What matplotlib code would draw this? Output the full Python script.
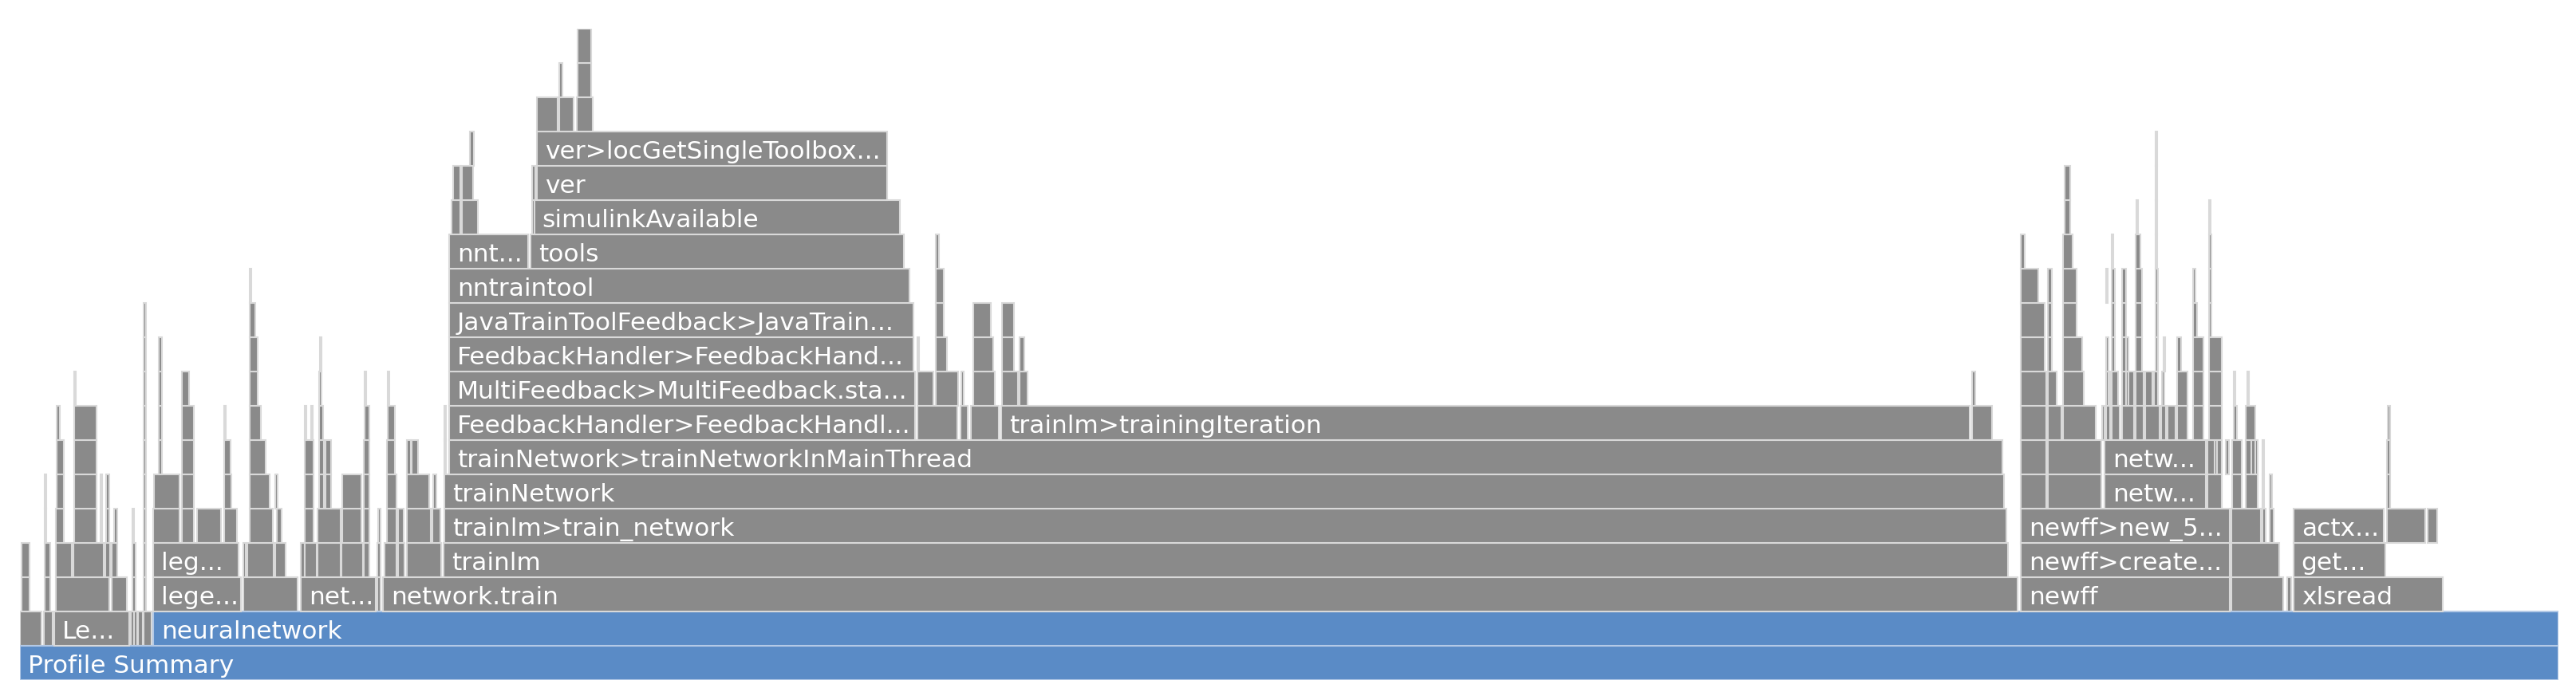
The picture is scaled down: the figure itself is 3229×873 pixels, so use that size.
import matplotlib
matplotlib.use('Agg')
import matplotlib.pyplot as plt

# flame graph of a MATLAB profile, times in ms
# labelled frames
names = ['Profile Summary', 'Le...', 'neuralnetwork',
         'lege...', 'net...', 'network.train', 'newff', 'xlsread',
         'leg...', 'trainlm', 'newff>create...', 'get...',
         'trainlm>train_network', 'newff>new_5...', 'actx...',
         'trainNetwork', 'netw...',
         'trainNetwork>trainNetworkInMainThread', 'netw...',
         'FeedbackHandler>FeedbackHandl...', 'trainlm>trainingIteration',
         'MultiFeedback>MultiFeedback.sta...',
         'FeedbackHandler>FeedbackHand...',
         'JavaTrainToolFeedback>JavaTrain...',
         'nntraintool', 'nnt...', 'tools', 'simulinkAvailable', 'ver',
         'ver>locGetSingleToolbox...']
depths = [0, 1, 1,
          2, 2, 2, 2, 2,
          3, 3, 3, 3,
          4, 4, 4,
          5, 5,
          6, 6,
          7, 7,
          8, 9, 10,
          11, 12, 12, 13, 14, 15]
starts = [0, 43, 167,
          167, 352, 455, 2508, 2850,
          167, 531, 2508, 2850,
          532, 2508, 2850,
          532, 2613,
          538, 2613,
          538, 1230,
          538, 538, 538,
          538, 538, 640, 645, 648, 648]
durs = [3182, 94, 3015,
        110, 94, 2049, 262, 187,
        107, 1961, 262, 115,
        1958, 262, 113,
        1955, 127,
        1947, 127,
        584, 1214,
        584, 582, 582,
        577, 99, 468, 458, 439, 439]
blue_frames = ['Profile Summary', 'neuralnetwork']

# small unlabelled frames (depth, start ms, end ms)
small_depth = ([1] * 6 + [2] * 10 + [3] * 21 + [4] * 28 + [5] * 27 + [6] * 25
               + [7] * 34 + [8] * 32 + [9] * 22 + [10] * 14 + [11] * 12
               + [12] * 7 + [13] * 7 + [14] * 5 + [15] * 2 + [16] * 3
               + [17] * 2 + [18] * 1)
small_start = [
    0, 30, 139, 143, 148, 155,
    2, 31, 45, 115, 141, 155, 280, 448, 2772, 2842,
    2, 31, 45, 67, 107, 115, 141, 155, 280, 285, 320, 352, 357, 373, 403, 431,
    448, 457, 474, 485, 2772,
    31, 45, 68, 101, 108, 118, 141, 155, 167, 203, 222, 256, 288, 322, 357,
    373, 404, 431, 449, 460, 474, 485, 517, 2772, 2811, 2820, 2967, 3018,
    31, 46, 68, 101, 108, 155, 168, 203, 256, 288, 320, 357, 375, 383, 404,
    431, 460, 485, 518, 2508, 2542, 2742, 2773, 2790, 2811, 2820, 2967,
    46, 68, 155, 174, 203, 256, 288, 357, 375, 383, 431, 460, 485, 491, 532,
    2508, 2542, 2742, 2773, 2790, 2811, 2967, 2797, 2751, 2765,
    46, 68, 155, 174, 203, 256, 288, 357, 365, 375, 432, 461, 532, 1125, 1179,
    1192, 2447, 2508, 2542, 2561, 2615, 2622, 2635, 2652, 2664, 2684, 2692,
    2704, 2724, 2744, 2775, 2790, 2968, 2610,
    68, 155, 174, 203, 288, 375, 432, 461, 1125, 1148, 1180, 1195, 1231, 1253,
    2447, 2508, 2542, 2561, 2617, 2622, 2635, 2652, 2664, 2675, 2685, 2704,
    2724, 2744, 2775, 2792, 2615, 2640,
    155, 174, 288, 376, 1125, 1148, 1195, 1231, 1253, 2508, 2542, 2561, 2622,
    2635, 2652, 2677, 2687, 2704, 2724, 2744, 2640, 2615,
    155, 288, 1148, 1195, 1231, 2508, 2542, 2561, 2622, 2635, 2652, 2677,
    2724, 2744,
    288, 1148, 2508, 2542, 2561, 2615, 2622, 2635, 2652, 2677, 2724, 2744,
    1148, 2508, 2561, 2622, 2652, 2677, 2744,
    541, 554, 642, 2563, 2653, 2677, 2744,
    543, 554, 642, 2563, 2677,
    564, 2677,
    648, 676, 698,
    676, 699,
    699]
small_end = [
    27, 41, 143, 147, 154, 165,
    12, 38, 112, 134, 145, 158, 348, 452, 2837, 2847,
    12, 38, 65, 105, 113, 122, 145, 158, 283, 318, 333, 357, 372, 402, 430,
    438, 452, 472, 482, 528, 2832,
    33, 55, 96, 103, 112, 122, 143, 158, 200, 218, 252, 272, 317, 328, 368,
    402, 428, 438, 452, 472, 481, 515, 527, 2809, 2815, 2825, 3015, 3030,
    33, 55, 96, 103, 112, 158, 200, 218, 265, 313, 323, 368, 381, 390, 428,
    438, 472, 513, 522, 2540, 2609, 2760, 2785, 2805, 2813, 2823, 2971,
    55, 96, 158, 178, 218, 264, 308, 368, 381, 390, 438, 470, 490, 499, 534,
    2540, 2609, 2760, 2785, 2805, 2813, 2971, 2802, 2754, 2769,
    50, 96, 158, 178, 218, 258, 302, 359, 367, 380, 438, 470, 534, 1175, 1188,
    1227, 2472, 2540, 2559, 2602, 2620, 2632, 2650, 2662, 2682, 2690, 2702,
    2717, 2737, 2760, 2779, 2802, 2971, 2613,
    70, 158, 178, 212, 298, 378, 434, 463, 1145, 1176, 1183, 1222, 1251, 1263,
    2451, 2540, 2553, 2587, 2620, 2630, 2650, 2662, 2673, 2680, 2688, 2717,
    2737, 2760, 2777, 2794, 2618, 2643,
    158, 178, 298, 378, 1127, 1162, 1220, 1246, 1259, 2538, 2547, 2585, 2626,
    2642, 2660, 2680, 2689, 2709, 2737, 2760, 2643, 2618,
    158, 295, 1158, 1217, 1246, 2538, 2547, 2578, 2626, 2640, 2660, 2680,
    2729, 2747,
    290, 1158, 2530, 2547, 2578, 2617, 2626, 2640, 2660, 2680, 2727, 2747,
    1152, 2513, 2573, 2624, 2658, 2679, 2747,
    552, 574, 646, 2570, 2655, 2679, 2746,
    552, 568, 646, 2570, 2679,
    569, 2679,
    674, 694, 718,
    680, 716,
    716]

gray = '#8a8a8a'
blue = '#5a8bc6'

fig = plt.figure(figsize=(32.3, 8.73), dpi=100)
ax = fig.add_axes([25 / 3230, 20 / 873, 3182 / 3230, 19 * 43 / 873])

# unlabelled frames first
small_dur = [e - s for s, e in zip(small_start, small_end)]
ax.barh(small_depth, small_dur, left=small_start, height=1, align='edge',
        color=gray, edgecolor='#d9d9d9', linewidth=1.5)

for name, d, s, w in zip(names, depths, starts, durs):
    if name in blue_frames:
        bars = ax.barh(d, w, left=s, height=1, align='edge', color=blue,
                       edgecolor='#b3c9e6', linewidth=1.5)
    else:
        bars = ax.barh(d, w, left=s, height=1, align='edge', color=gray,
                       edgecolor='#d9d9d9', linewidth=1.5)
    t = ax.annotate(name, (s, d + 0.22), xytext=(7, 0),
                    textcoords='offset points', va='baseline', ha='left',
                    color='white', fontsize=22.5, family='DejaVu Sans')
    t.set_clip_path(bars[0])

ax.set_xlim(0, 3182)
ax.set_ylim(0, 19)
ax.axis('off')

fig.savefig('out.png', dpi=100, facecolor='white')
